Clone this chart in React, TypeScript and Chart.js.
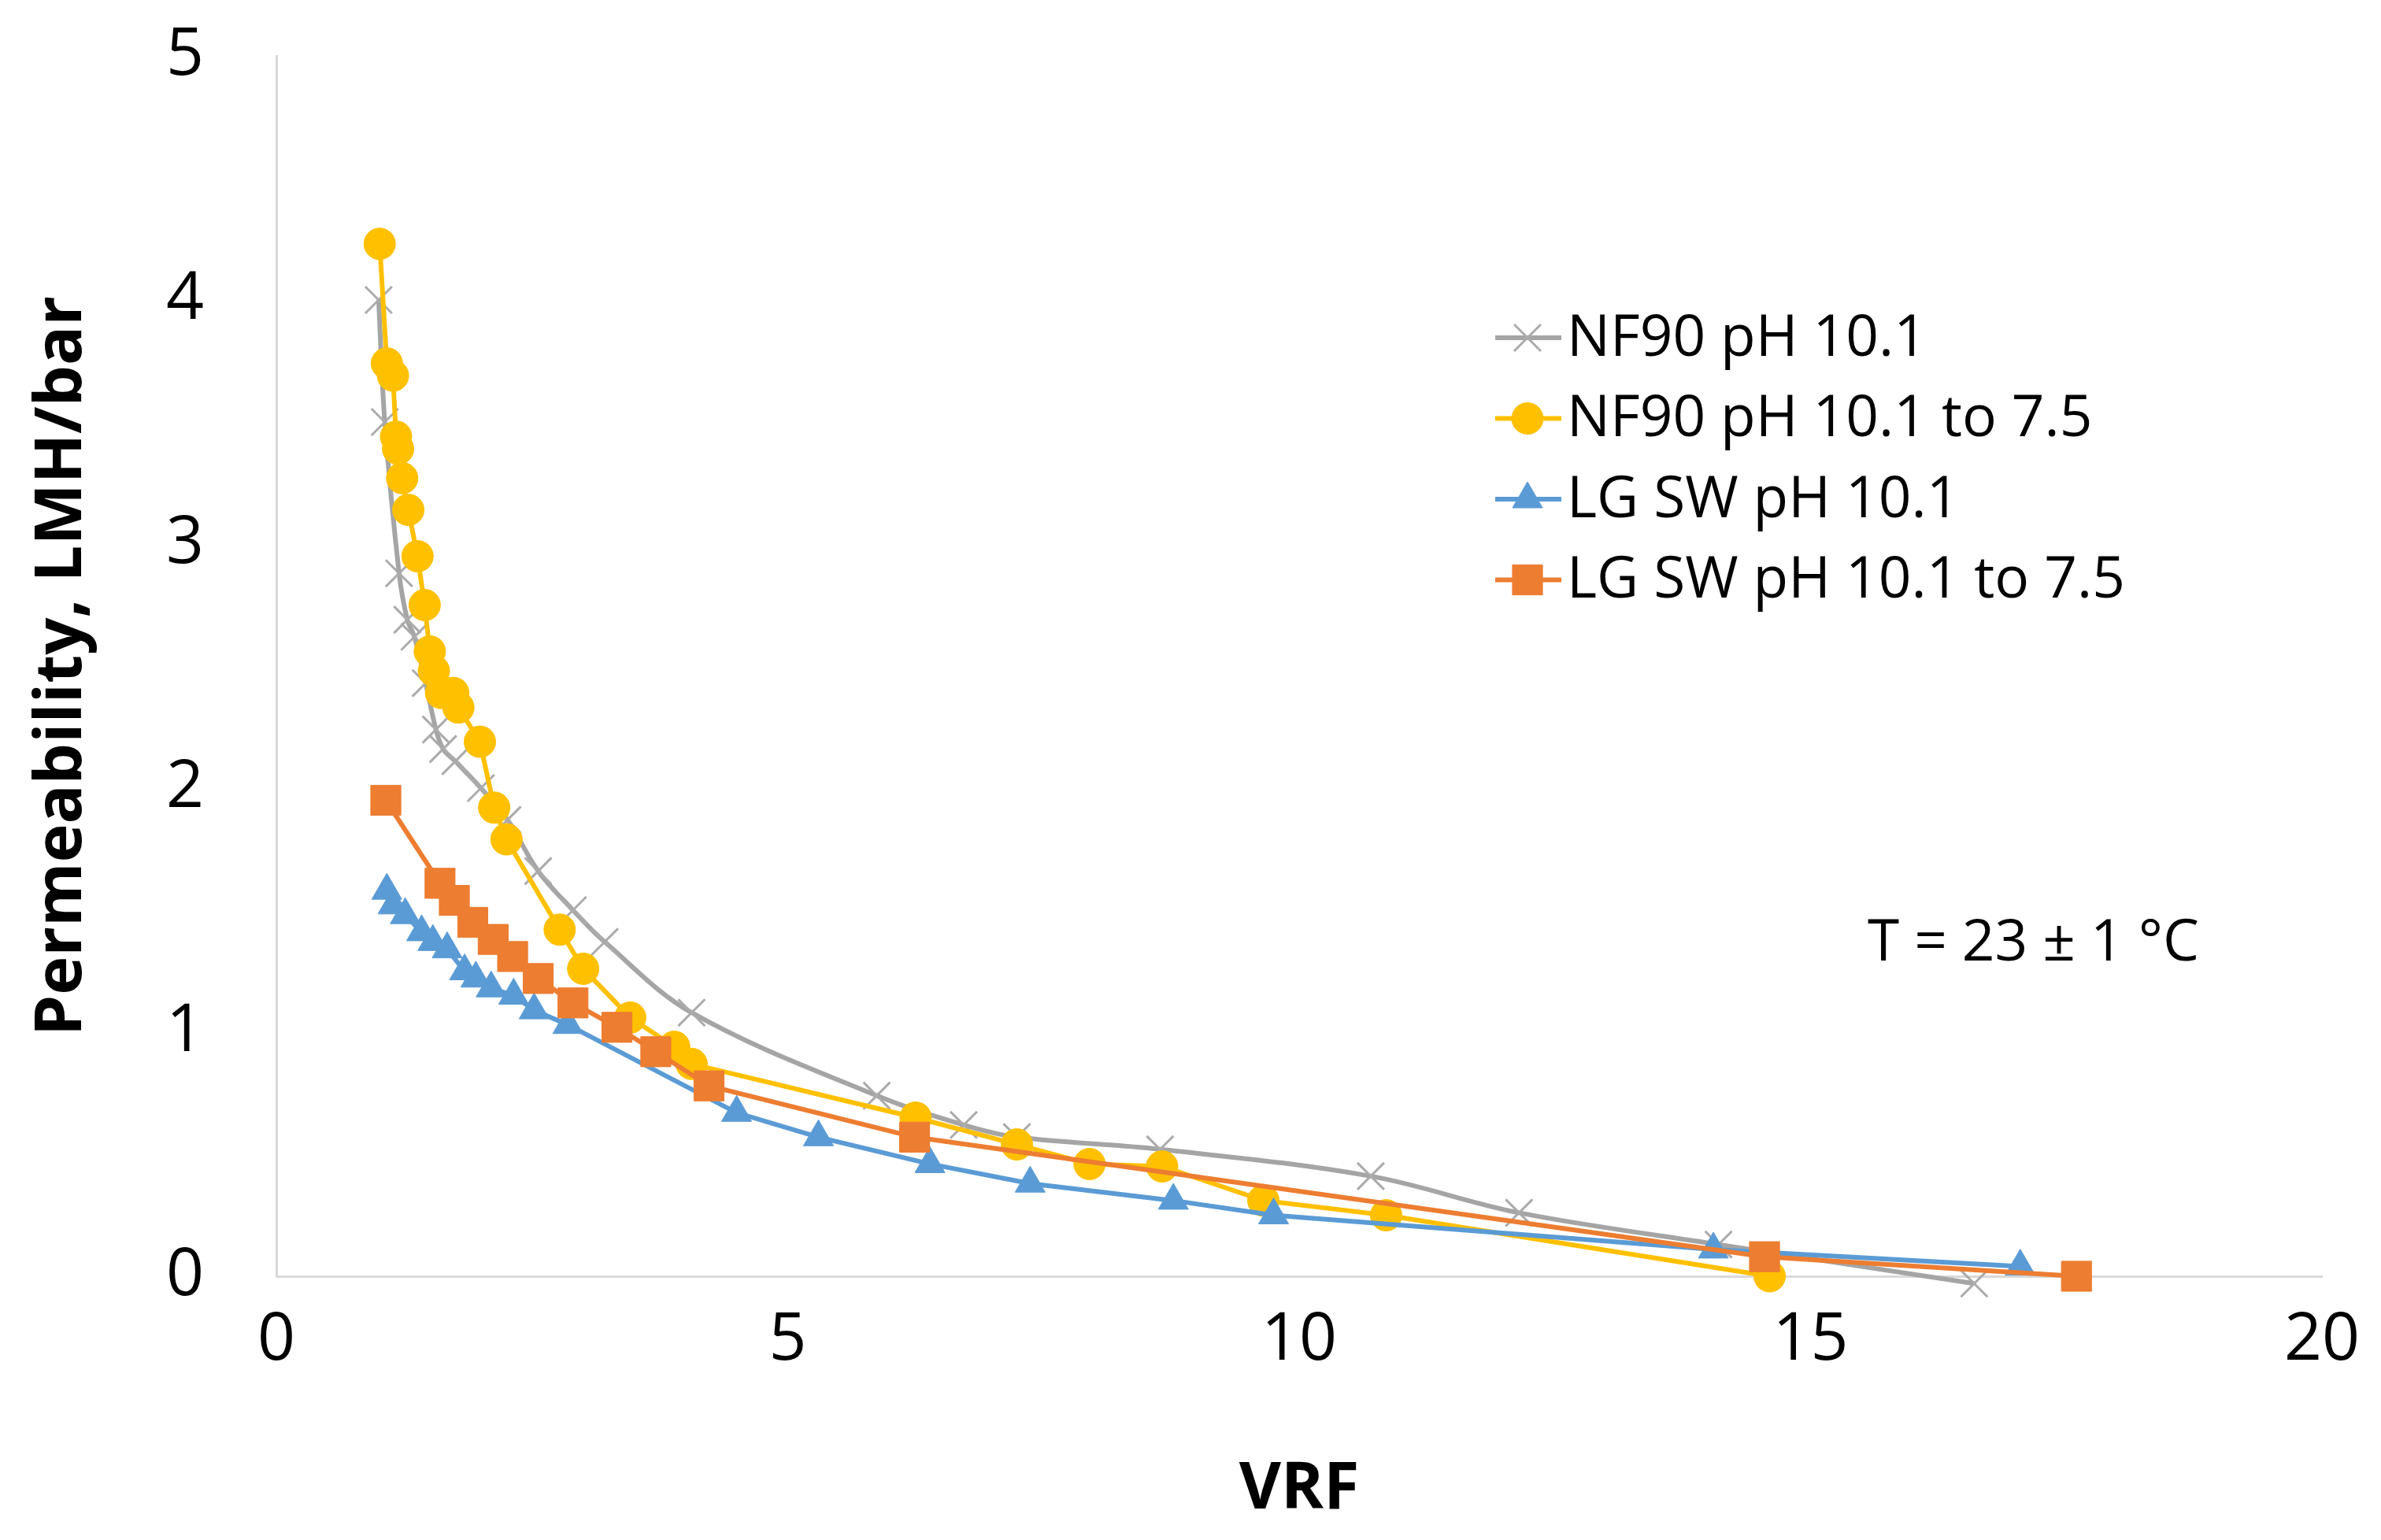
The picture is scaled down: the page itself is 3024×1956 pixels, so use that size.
import { useEffect, useRef } from 'react';
import { Chart, registerables } from 'chart.js';
import { drawPoint } from 'chart.js/helpers';

Chart.register(...registerables);

// NF90 pH 10.1
const nf90X = [1.0, 1.06, 1.2, 1.28, 1.35, 1.46, 1.56, 1.63, 1.75, 2.0, 2.26, 2.56, 2.9, 3.21, 4.06, 5.87, 6.72, 7.24, 8.64, 10.7, 12.15, 14.1, 16.6];
const nf90Y = [4.0, 3.5, 2.88, 2.69, 2.62, 2.43, 2.24, 2.16, 2.11, 2.0, 1.87, 1.66, 1.5, 1.37, 1.08, 0.74, 0.62, 0.57, 0.52, 0.41, 0.26, 0.13, -0.03];

// NF90 pH 10.1 to 7.5
const nf90AdjX = [1.01, 1.08, 1.14, 1.17, 1.19, 1.23, 1.29, 1.38, 1.45, 1.5, 1.54, 1.61, 1.73, 1.78, 1.99, 2.13, 2.25, 2.77, 3.0, 3.46, 3.89, 4.06, 6.25, 7.24, 7.95, 8.66, 9.65, 10.85, 14.6];
const nf90AdjY = [4.23, 3.74, 3.69, 3.44, 3.39, 3.27, 3.14, 2.95, 2.75, 2.56, 2.48, 2.39, 2.39, 2.33, 2.19, 1.92, 1.79, 1.42, 1.26, 1.06, 0.94, 0.87, 0.65, 0.54, 0.46, 0.45, 0.31, 0.25, 0.0];

// LG SW pH 10.1
const lgswX = [1.08, 1.14, 1.26, 1.42, 1.53, 1.67, 1.84, 1.95, 2.1, 2.32, 2.52, 2.85, 4.5, 5.3, 6.39, 7.37, 8.77, 9.75, 14.05, 17.05];
const lgswY = [1.58, 1.52, 1.48, 1.41, 1.37, 1.34, 1.25, 1.22, 1.18, 1.15, 1.09, 1.03, 0.67, 0.57, 0.46, 0.38, 0.31, 0.25, 0.11, 0.04];

// LG SW pH 10.1 to 7.5
const lgswAdjX = [1.07, 1.6, 1.74, 1.92, 2.12, 2.31, 2.56, 2.9, 3.33, 3.71, 4.23, 6.24, 14.55, 17.6];
const lgswAdjY = [1.95, 1.61, 1.54, 1.45, 1.38, 1.31, 1.22, 1.12, 1.02, 0.92, 0.78, 0.57, 0.08, 0.0];

const seriesLabels = ['NF90 pH 10.1', 'NF90 pH 10.1 to 7.5', 'LG SW pH 10.1', 'LG SW pH 10.1 to 7.5'];
const xTicks = [0, 5, 10, 15, 20];
const yTicks = [0, 1, 2, 3, 4, 5];
const xTitle = 'VRF';
const yTitle = 'Permeability, LMH/bar';
const noteText = 'T = 23 ± 1 °C';

const FONT = "'Open Sans', sans-serif";

const toPoints = (xs: number[], ys: number[]) => xs.map((x, i) => ({ x, y: ys[i] }));

const App: React.FC = () => {
  const chartRef = useRef<HTMLCanvasElement | null>(null);
  const chartInstance = useRef<Chart | null>(null);

  useEffect(() => {
    if (!chartRef.current) return;
    if (chartInstance.current) chartInstance.current.destroy();

    const k = window.innerWidth / 3024;

    const styles = [
      { color: '#A5A5A5', point: 'crossRot', radius: 24, pColor: '#ABABAB', pWidth: 3, tension: 0.35 },
      { color: '#FFC000', point: 'circle', radius: 20, pColor: '#FFC000', pWidth: 1, tension: 0 },
      { color: '#5B9BD5', point: 'triangle', radius: 22, pColor: '#5B9BD5', pWidth: 1, tension: 0 },
      { color: '#ED7D31', point: 'rect', radius: 27, pColor: '#ED7D31', pWidth: 1, tension: 0 },
    ];
    const dataSets = [
      toPoints(nf90X, nf90Y),
      toPoints(nf90AdjX, nf90AdjY),
      toPoints(lgswX, lgswY),
      toPoints(lgswAdjX, lgswAdjY),
    ];

    const legendAndNote = {
      id: 'legendAndNote',
      afterDatasetsDraw(chart: Chart) {
        const ctx = chart.ctx;
        ctx.save();
        styles.forEach((s, i) => {
          const y = (429 + 102.5 * i) * k;
          ctx.strokeStyle = s.color;
          ctx.lineWidth = 6 * k;
          ctx.beginPath();
          ctx.moveTo(1899 * k, y);
          ctx.lineTo(1983 * k, y);
          ctx.stroke();
          ctx.fillStyle = s.pColor;
          ctx.strokeStyle = s.pColor;
          ctx.lineWidth = s.pWidth * k;
          drawPoint(ctx, { pointStyle: s.point as any, radius: s.radius * k, borderWidth: s.pWidth * k, rotation: 0 }, 1940 * k, y);
          ctx.fillStyle = '#000';
          ctx.font = `${73 * k}px ${FONT}`;
          ctx.textAlign = 'left';
          ctx.textBaseline = 'middle';
          ctx.fillText(seriesLabels[i], 1990 * k, y + 2 * k);
        });
        ctx.font = `${73 * k}px ${FONT}`;
        ctx.fillText(noteText, 2372 * k, 1199 * k);
        ctx.restore();
      },
    };

    chartInstance.current = new Chart(chartRef.current, {
      type: 'line',
      data: {
        datasets: dataSets.map((d, i) => ({
          label: seriesLabels[i],
          data: d,
          borderColor: styles[i].color,
          backgroundColor: styles[i].pColor,
          borderWidth: 6 * k,
          pointStyle: styles[i].point as any,
          pointRadius: styles[i].radius * k,
          pointBackgroundColor: styles[i].pColor,
          pointBorderColor: styles[i].pColor,
          pointBorderWidth: styles[i].pWidth * k,
          tension: styles[i].tension,
          clip: false as any,
          order: 3 - i,
        })),
      },
      options: {
        animation: false,
        responsive: true,
        maintainAspectRatio: false,
        layout: { padding: { top: 71 * k, right: 75 * k, left: 0, bottom: 0 } },
        plugins: {
          legend: { display: false },
          tooltip: { enabled: false },
        },
        scales: {
          x: {
            type: 'linear',
            min: 0,
            max: 20,
            afterFit: (scale: any) => {
              scale.height = 335 * k;
              scale.paddingLeft = 0;
              scale.paddingRight = 0;
            },
            afterBuildTicks: (scale: any) => { scale.ticks = xTicks.map((v) => ({ value: v })); },
            grid: { display: false, drawTicks: false },
            border: { color: '#D9D9D9', width: 3 * k },
            ticks: { color: '#000', padding: 32 * k, font: { family: FONT, size: 84 * k } },
            title: {
              display: true,
              text: xTitle,
              color: '#000',
              padding: { top: 0, bottom: 14 * k },
              font: { family: FONT, size: 82 * k, weight: 'bold' },
            },
          },
          y: {
            type: 'linear',
            min: 0,
            max: 5,
            afterFit: (scale: any) => {
              scale.width = 351 * k;
              scale.paddingTop = 0;
              scale.paddingBottom = 0;
            },
            afterBuildTicks: (scale: any) => { scale.ticks = yTicks.map((v) => ({ value: v })); },
            grid: { display: false, drawTicks: false },
            border: { color: '#D9D9D9', width: 3 * k },
            ticks: { color: '#000', padding: 92 * k, font: { family: FONT, size: 84 * k } },
            title: {
              display: true,
              text: yTitle,
              color: '#000',
              padding: { top: 30 * k, bottom: 0 },
              font: { family: FONT, size: 83 * k, weight: 'bold' },
            },
          },
        },
      },
      plugins: [legendAndNote],
    });

    // Cleanup
    return () => {
      chartInstance.current?.destroy();
    };
  }, []);

  return (
    <div style={{ position: 'fixed', left: 0, top: 0, width: '100vw', height: '100vh', background: '#fff' }}>
      <canvas ref={chartRef} />
    </div>
  );
};

export default App;
